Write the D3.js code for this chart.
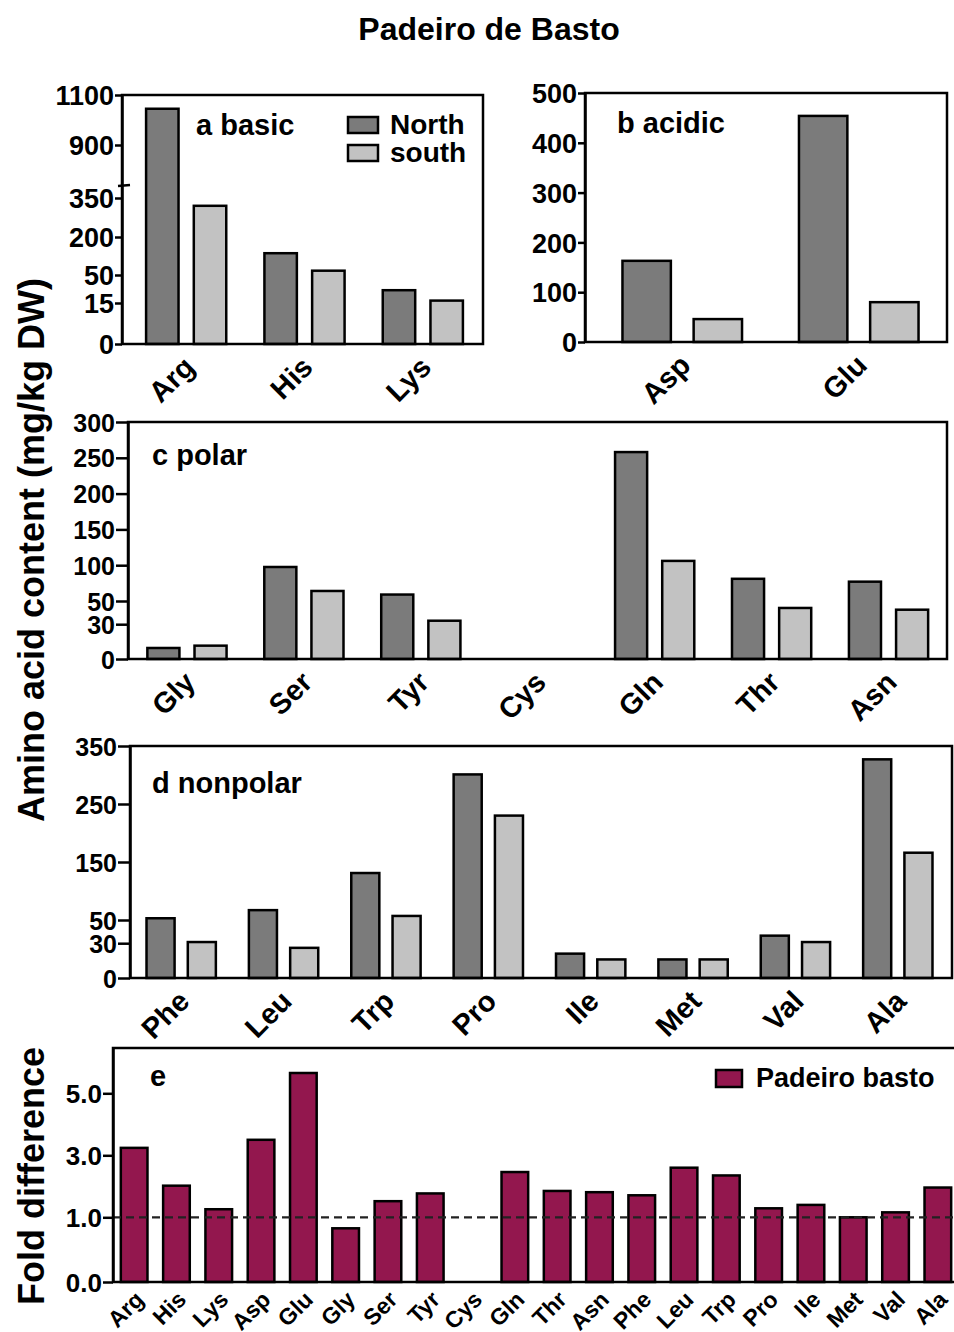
<!DOCTYPE html>
<html>
<head>
<meta charset="utf-8">
<script src="https://cdn.jsdelivr.net/npm/d3@7"></script>
<style>
  body { margin: 0; background: #fff; }
  text { font-family: "Liberation Sans", Arial, sans-serif; font-weight: bold; fill: #000; }
</style>
</head>
<body>
<svg id="chart" width="954" height="1332"></svg>
<script>
// a basic
const basicNames = ["Arg", "His", "Lys"];
const basicNorth = [1045, 136, 31];
const basicSouth = [320, 67, 18];
const basicTicks = [0, 15, 50, 200, 350, 900, 1100];

// b acidic
const acidicNames = ["Asp", "Glu"];
const acidicNorth = [163, 454];
const acidicSouth = [46, 80];
const acidicTicks = [0, 100, 200, 300, 400, 500];

// c polar
const polarNames = ["Gly", "Ser", "Tyr", "Cys", "Gln", "Thr", "Asn"];
const polarNorth = [9.5, 97.5, 59, 0, 258, 81, 77];
const polarSouth = [11.5, 64, 33, 0, 106, 44, 42.5];
const polarTicks = [0, 30, 50, 100, 150, 200, 250, 300];

// d nonpolar
const nonpolarNames = ["Phe", "Leu", "Trp", "Pro", "Ile", "Met", "Val", "Ala"];
const nonpolarNorth = [53, 67, 131, 301, 21, 16, 36.5, 327];
const nonpolarSouth = [31, 26, 57, 230, 16, 16, 31, 166];
const nonpolarTicks = [0, 30, 50, 150, 250, 350];

// e fold difference (north / south)
const foldNames = ["Arg", "His", "Lys", "Asp", "Glu", "Gly", "Ser", "Tyr", "Cys", "Gln",
  "Thr", "Asn", "Phe", "Leu", "Trp", "Pro", "Ile", "Met", "Val", "Ala"];
const foldValues = [3.24, 2.02, 1.26, 3.5, 5.65, 0.83, 1.52, 1.77, null, 2.46,
  1.85, 1.81, 1.71, 2.6, 2.35, 1.29, 1.4, 1.0, 1.16, 1.96];
const foldTicks = [0, 1, 3, 5];

const seriesNames = ["North", "south"];
const seriesColor = { North: "#7b7b7b", south: "#c2c2c2" };
const foldColor = "#93174e";

const svg = d3.select("#chart");

svg.append("text").attr("x", 489).attr("y", 40)
  .attr("text-anchor", "middle").style("font-size", "32px")
  .text("Padeiro de Basto");

function groupedPanel(o) {
  const g = svg.append("g");
  const y = d3.scaleLinear().domain(o.breaks).range(o.breakPx);
  const x = d3.scaleBand().domain(o.names).range([o.x0, o.x1]);
  const xs = d3.scaleBand().domain(seriesNames).range([0, x.bandwidth()])
    .paddingInner(0.32).paddingOuter(0.4);
  const top = y(o.breaks[o.breaks.length - 1]), bottom = y(0);

  const rows = [];
  o.names.forEach((n, i) => {
    rows.push({ name: n, s: "North", v: o.north[i] });
    rows.push({ name: n, s: "south", v: o.south[i] });
  });

  g.selectAll("rect.bar").data(rows).join("rect")
    .attr("class", "bar")
    .attr("x", d => x(d.name) + xs(d.s))
    .attr("width", xs.bandwidth())
    .attr("y", d => y(d.v))
    .attr("height", d => bottom - y(d.v))
    .attr("fill", d => seriesColor[d.s])
    .attr("stroke", "#000").attr("stroke-width", 2.5);

  // frame
  g.append("rect").attr("x", o.axisX).attr("y", top)
    .attr("width", o.right - o.axisX).attr("height", bottom - top)
    .attr("fill", "none").attr("stroke", "#000").attr("stroke-width", 2.5);

  const ax = g.append("g").attr("transform", `translate(${o.axisX},0)`)
    .call(d3.axisLeft(y).tickValues(o.ticks).tickFormat(d3.format("d"))
      .tickSize(o.tickLen).tickSizeOuter(0).tickPadding(1));
  ax.select(".domain").attr("stroke-width", 2.5);
  ax.selectAll(".tick line").attr("stroke-width", 2.5);
  ax.selectAll(".tick text").style("font-size", o.tickFont + "px")
    .attr("font-family", null).attr("dy", "0.36em");

  g.selectAll("text.cat").data(o.names).join("text")
    .attr("class", "cat")
    .attr("text-anchor", "end")
    .attr("transform", d => `translate(${x(d) + x.bandwidth() / 2 + 10},${bottom + 25}) rotate(-45)`)
    .style("font-size", o.catFont + "px")
    .text(d => d);

  g.append("text").attr("x", o.labelX).attr("y", o.labelY)
    .style("font-size", "29px").text(o.label);
  return { g, y, x };
}

// a
const pa = groupedPanel({
  names: basicNames, north: basicNorth, south: basicSouth, ticks: basicTicks,
  breaks: [0, 15, 50, 200, 350, 900, 1100], breakPx: [344, 303, 275, 237, 198, 145, 95],
  x0: 127, x1: 482, axisX: 122, right: 483, tickLen: 7, tickFont: 27, catFont: 29,
  label: "a basic", labelX: 196, labelY: 135
});
pa.g.append("line").attr("x1", 118).attr("x2", 130).attr("y1", 186).attr("y2", 185)
  .attr("stroke", "#000").attr("stroke-width", 2.5);

// legend a
const legA = svg.append("g");
seriesNames.forEach((s, i) => {
  legA.append("rect").attr("x", 348).attr("y", 117 + i * 28).attr("width", 30).attr("height", 16)
    .attr("fill", seriesColor[s]).attr("stroke", "#000").attr("stroke-width", 2.5);
  legA.append("text").attr("x", 390).attr("y", 134 + i * 28)
    .style("font-size", "28px").text(s);
});

// b
groupedPanel({
  names: acidicNames, north: acidicNorth, south: acidicSouth, ticks: acidicTicks,
  breaks: [0, 500], breakPx: [342, 93],
  x0: 594, x1: 947, axisX: 585, right: 947, tickLen: 7, tickFont: 27, catFont: 29,
  label: "b acidic", labelX: 617, labelY: 133
});

// c
groupedPanel({
  names: polarNames, north: polarNorth, south: polarSouth, ticks: polarTicks,
  breaks: [0, 50, 300], breakPx: [659, 601, 422],
  x0: 128.5, x1: 947, axisX: 128, right: 947, tickLen: 12, tickFont: 25, catFont: 29,
  label: "c polar", labelX: 152, labelY: 465
});

// d
groupedPanel({
  names: nonpolarNames, north: nonpolarNorth, south: nonpolarSouth, ticks: nonpolarTicks,
  breaks: [0, 50, 350], breakPx: [978, 920, 746],
  x0: 130, x1: 949, axisX: 130, right: 952, tickLen: 12, tickFont: 25, catFont: 29,
  label: "d nonpolar", labelX: 152, labelY: 793
});

// e fold difference
const ge = svg.append("g");
const ye = d3.scaleLinear().domain([0, 1, 5, 6.45]).range([1282, 1217.3, 1093.3, 1048]);
const xe = d3.scaleBand().domain(foldNames).range([113, 959]).paddingInner(0.37).paddingOuter(0.185);
const eBottom = ye(0), eTop = ye(6.45);

ge.selectAll("rect.bar").data(foldNames.map((n, i) => ({ name: n, v: foldValues[i] })).filter(d => d.v != null))
  .join("rect").attr("class", "bar")
  .attr("x", d => xe(d.name)).attr("width", xe.bandwidth())
  .attr("y", d => ye(d.v)).attr("height", d => eBottom - ye(d.v))
  .attr("fill", foldColor).attr("stroke", "#000").attr("stroke-width", 2.5);

ge.append("line").attr("x1", 113).attr("x2", 954).attr("y1", ye(1)).attr("y2", ye(1))
  .attr("stroke", "#222").attr("stroke-width", 2.2).attr("stroke-dasharray", "8,5");

ge.append("rect").attr("x", 113).attr("y", eTop).attr("width", 860).attr("height", eBottom - eTop)
  .attr("fill", "none").attr("stroke", "#000").attr("stroke-width", 2.5);

const axe = ge.append("g").attr("transform", "translate(113,0)")
  .call(d3.axisLeft(ye).tickValues(foldTicks).tickFormat(d3.format(".1f"))
    .tickSize(10).tickSizeOuter(0).tickPadding(1));
axe.select(".domain").attr("stroke-width", 2.5);
axe.selectAll(".tick line").attr("stroke-width", 2.5);
axe.selectAll(".tick text").style("font-size", "26px").attr("font-family", null).attr("dy", "0.36em");

ge.selectAll("text.cat").data(foldNames).join("text")
  .attr("class", "cat").attr("text-anchor", "end")
  .attr("transform", d => `translate(${xe(d) + xe.bandwidth() / 2 + 11},${eBottom + 19}) rotate(-45)`)
  .style("font-size", "23px").text(d => d);

ge.append("text").attr("x", 150).attr("y", 1086).style("font-size", "29px").text("e");

ge.append("rect").attr("x", 716).attr("y", 1070).attr("width", 26).attr("height", 17)
  .attr("fill", foldColor).attr("stroke", "#000").attr("stroke-width", 2.5);
ge.append("text").attr("x", 756).attr("y", 1087).style("font-size", "27px").text("Padeiro basto");

// axis titles
svg.append("text").attr("transform", "translate(44,550) rotate(-90)")
  .attr("text-anchor", "middle").style("font-size", "36px")
  .text("Amino acid content (mg/kg DW)");
svg.append("text").attr("transform", "translate(44,1176) rotate(-90)")
  .attr("text-anchor", "middle").style("font-size", "36px")
  .text("Fold difference");
</script>
</body>
</html>
